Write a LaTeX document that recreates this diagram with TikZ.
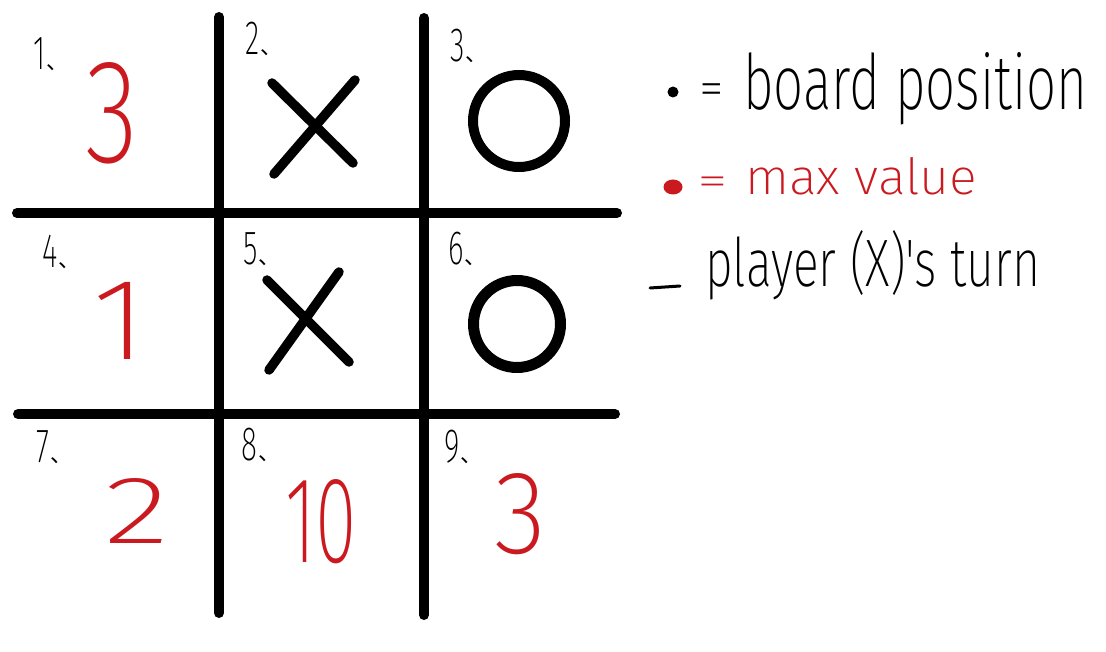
\documentclass[tikz,border=0pt]{standalone}
\usepackage{fontspec}
\usetikzlibrary{shapes.geometric}
\setmainfont{Liberation Sans}
\IfFontExistsTF{Fira Sans ExtraLight}
  {\newfontfamily\hand{Fira Sans ExtraLight}}
  {\IfFontExistsTF{Fira Sans Light}
    {\newfontfamily\hand{Fira Sans Light}}
    {\IfFontExistsTF{Fira Sans Thin}
      {\newfontfamily\hand{Fira Sans Thin}}
      {\newfontfamily\hand{Fira Sans}}}}
\newfontfamily\cjk{Noto Sans CJK SC}
\definecolor{hred}{RGB}{202,26,32}
\newcommand\lab[1]{\scalebox{0.62}[1]{\hand\fontsize{48}{48}\selectfont #1}\hspace{1pt}{\cjk\fontsize{22}{22}\selectfont 、}}
\tikzset{
  gridline/.style={line width=10pt, line cap=round},
  piece/.style={line width=9.5pt, line cap=round},
  val/.style={text=hred, inner sep=0pt, anchor=base west, font=\hand},
  lbl/.style={inner sep=0pt, anchor=base west},
  lgd/.style={inner sep=0pt, anchor=base west, font=\hand},
  eqs/.style={inner sep=0pt, font=\hand\fontsize{50}{50}\selectfont},
}
\begin{document}
\begin{tikzpicture}[x=1pt,y=-1pt]
\useasboundingbox[fill=white] (0,0) rectangle (1106,652);
% grid
\draw[gridline] (219,17) -- (219,613);
\draw[gridline] (424,18) -- (424,615);
\draw[gridline] (17,213) -- (617,213);
\draw[gridline] (18,414) -- (615,414);
% pieces
\draw[piece] (272,83) -- (353,163);
\draw[piece] (355,80) -- (274,174);
\draw[piece] (267,280) -- (349,362);
\draw[piece] (339,272) -- (269,370);
\draw[line width=10pt] (519,121) circle (46);
\draw[line width=11pt] (517,324) circle (43.5);
% cell labels
\node[lbl] (l1) at (33,70) {\lab{1}};
\node[lbl] (l2) at (245,55) {\lab{2}};
\node[lbl] (l3) at (450,62) {\lab{3}};
\node[lbl] (l4) at (42,268) {\lab{4}};
\node[lbl] (l5) at (243,265) {\lab{5}};
\node[lbl] (l6) at (448,265) {\lab{6}};
\node[lbl] (l7) at (36,462) {\lab{7}};
\node[lbl] (l8) at (241,460) {\lab{8}};
\node[lbl] (l9) at (444,462) {\lab{9}};
% values
\node[val] (v1) at (85,163) {\resizebox{53pt}{100pt}{3}};
\node[val] (v4) at (92,360) {\resizebox{55pt}{77pt}{1}};
\node[val] (v7) at (104,543) {\resizebox{65pt}{65pt}{2}};
\node[val] (v8) at (285,562) {\resizebox{72pt}{83pt}{10}};
\node[val] (v9) at (494,553) {\resizebox{52pt}{80pt}{3}};
% legend
\node[circle, fill=black, minimum size=11pt, inner sep=0pt] (d1) at (673,92) {};
\node[eqs] (e1) at (712,95) {=};
\node[lgd] (t1) at (743,110) {\resizebox{344pt}{57pt}{board position}};
\node[ellipse, fill=hred, minimum width=19pt, minimum height=15pt, inner sep=0pt] (d2) at (673,187) {};
\node[eqs, text=hred] (e2) at (713,186) {\scalebox{1.25}[0.85]{=}};
\node[lgd, text=hred] (t2) at (745,195) {\resizebox{232pt}{37pt}{max value}};
\coordinate (da) at (650,288);
\coordinate (db) at (680,286);
\draw[line width=3pt, line cap=round] (da) -- (db);
\node[lgd] (t3) at (705,287) {\resizebox{335pt}{56pt}{player (X)'s turn}};
\end{tikzpicture}
\end{document}
